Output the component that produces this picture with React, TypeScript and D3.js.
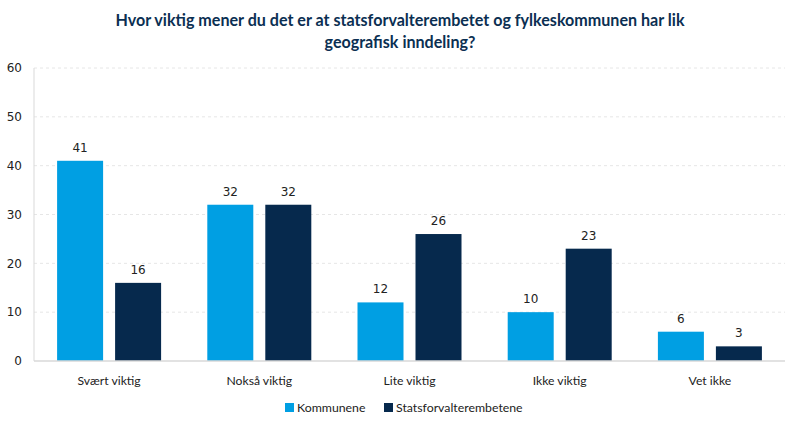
import React from "react";
import * as d3 from "d3";

const categories = ["Svært viktig", "Nokså viktig", "Lite viktig", "Ikke viktig", "Vet ikke"];
const seriesNames = ["Kommunene", "Statsforvalterembetene"];
const kommunene = [41, 32, 12, 10, 6];
const statsforvalter = [16, 32, 26, 23, 3];
const yTicks = [0, 10, 20, 30, 40, 50, 60];
const colors = ["#009FE3", "#06294D"];
const titleLines = [
  "Hvor viktig mener du det er at statsforvalterembetet og fylkeskommunen har lik",
  "geografisk inndeling?",
];

const W = 800, H = 429;
const M = { left: 34, right: 15, top: 68, bottom: 68 };

export default function App() {
  const x = d3.scaleBand<string>().domain(categories).range([M.left, W - M.right]);
  const y = d3.scaleLinear().domain([0, 60]).range([H - M.bottom, M.top]);
  const barW = 46, gap = 12;
  const series = [kommunene, statsforvalter];
  const uiFont = "Lato, 'Open Sans', sans-serif";
  const numFont = "'DejaVu Sans', sans-serif";
  return (
    <svg width={W} height={H} style={{ position: "absolute", left: 0, top: 0, background: "#fff" }}>
      {titleLines.map((t, i) => (
        <text key={i} x={W / 2} y={26 + i * 22} textAnchor="middle" fontFamily={uiFont}
          fontWeight={700} fontSize={16.1} fill="#0B2F52">{t}</text>
      ))}
      {yTicks.map((t) => (
        <g key={t}>
          {t > 0 && (
            <line x1={M.left} x2={W - M.right} y1={y(t)} y2={y(t)} stroke="#e6e6e6"
              strokeDasharray="3,3" />
          )}
          <text x={22} y={y(t)} dy="0.35em" textAnchor="end" fontFamily={numFont} fontSize={12}
            fill="#222">{t}</text>
        </g>
      ))}
      <line x1={M.left} x2={M.left} y1={M.top} y2={y(0)} stroke="#d9d9d9" />
      {categories.map((c, ci) => {
        const cx = (x(c) as number) + x.bandwidth() / 2;
        return (
          <g key={c}>
            {series.map((s, si) => {
              const bx = si === 0 ? cx - gap / 2 - barW : cx + gap / 2;
              return (
                <g key={si}>
                  <rect x={bx} y={y(s[ci])} width={barW} height={y(0) - y(s[ci])} fill={colors[si]} />
                  <text x={bx + barW / 2} y={y(s[ci]) - 9} textAnchor="middle" fontFamily={numFont}
                    fontSize={12} fill="#222">{s[ci]}</text>
                </g>
              );
            })}
            <text x={cx} y={385} textAnchor="middle" fontFamily={uiFont} fontSize={12.2} fill="#222">{c}</text>
          </g>
        );
      })}
      <line x1={M.left} x2={W - M.right} y1={y(0)} y2={y(0)} stroke="#d9d9d9" strokeWidth={1.5} />
      {(() => {
        const items = [
          { x: 285, name: seriesNames[0], color: colors[0] },
          { x: 384, name: seriesNames[1], color: colors[1] },
        ];
        return items.map((it) => (
          <g key={it.name}>
            <rect x={it.x} y={403} width={9} height={9} fill={it.color} />
            <text x={it.x + 12} y={412} fontFamily={uiFont} fontSize={12.3} fill="#222">{it.name}</text>
          </g>
        ));
      })()}
    </svg>
  );
}
